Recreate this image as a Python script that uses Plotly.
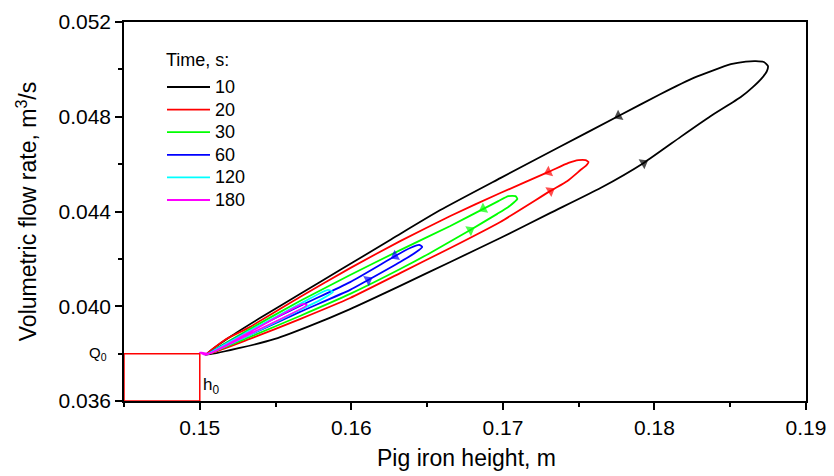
import plotly.graph_objects as go

# ---- data ----
times = ["10", "20", "30", "60", "120", "180"]
colors = ["#000000", "#ff0000", "#00ff00", "#0000ff", "#00ffff", "#ff00ff"]
legend_title = "Time, s:"
x_title = "Pig iron height, m"
y_title = "Volumetric flow rate, m<sup>3</sup>/s"

h0 = 0.15
Q0 = 0.038

x10 = [0.1504, 0.15264, 0.15496, 0.15727, 0.15992, 0.16322, 0.16653, 0.16983, 0.17314, 0.17644,
       0.17929, 0.18173, 0.18372, 0.18570, 0.18649, 0.18709, 0.18742,
       0.18749, 0.18722, 0.18669, 0.18603, 0.18504, 0.18259, 0.18041, 0.17763, 0.17360, 0.16983,
       0.16587, 0.16256, 0.15925, 0.15661, 0.15397, 0.15198, 0.1504]
y10 = [0.03795, 0.03824, 0.03862, 0.03917, 0.03988, 0.04086, 0.04187, 0.04288, 0.04394, 0.04499,
       0.04605, 0.04715, 0.04803, 0.04883, 0.04925, 0.04963, 0.04993,
       0.05014, 0.05031, 0.05035, 0.05033, 0.05022, 0.04964, 0.04896, 0.04803, 0.04668, 0.04541,
       0.04406, 0.04280, 0.04153, 0.04052, 0.03950, 0.03870, 0.03795]

x20 = [0.1504, 0.15330, 0.15661, 0.15992, 0.16322, 0.16653, 0.16983, 0.17314, 0.17426, 0.17512,
       0.17552, 0.17565, 0.17545, 0.17499, 0.17433, 0.17301, 0.16983, 0.16653, 0.16322, 0.15992,
       0.15661, 0.15330, 0.15165, 0.1504]
y20 = [0.03795, 0.03862, 0.03946, 0.04035, 0.04140, 0.04246, 0.04356, 0.04487, 0.04529, 0.04575,
       0.04596, 0.04609, 0.04617, 0.04617, 0.04605, 0.04567, 0.04478, 0.04381, 0.04275, 0.04161,
       0.04039, 0.03912, 0.03858, 0.03795]

x30 = [0.1504, 0.15330, 0.15661, 0.15992, 0.16322, 0.16520, 0.16785, 0.16963, 0.17036, 0.17076,
       0.17096, 0.17083, 0.17036, 0.16970, 0.16871, 0.16653, 0.16322, 0.15992, 0.15661, 0.15330,
       0.1504]
y30 = [0.03795, 0.03870, 0.03959, 0.04052, 0.04157, 0.04225, 0.04322, 0.04390, 0.04419, 0.04440,
       0.04453, 0.04465, 0.04465, 0.04444, 0.04411, 0.04339, 0.04237, 0.04132, 0.04022, 0.03904,
       0.03795]

x60 = [0.1504, 0.15330, 0.15661, 0.15992, 0.16111, 0.16322, 0.16428, 0.16468,
       0.16448, 0.16388, 0.16289, 0.15992, 0.15661, 0.15330, 0.1504]
y60 = [0.03795, 0.03879, 0.03976, 0.04069, 0.04111, 0.04187, 0.04229, 0.04250,
       0.04259, 0.04246, 0.04212, 0.04102, 0.04001, 0.03896, 0.03795]

x120 = [0.1504, 0.15330, 0.15661, 0.15793, 0.15879, 0.15846, 0.15661, 0.15330, 0.1504]
y120 = [0.03795, 0.03879, 0.03984, 0.04026, 0.04060, 0.04069, 0.04010, 0.03896, 0.03795]

x180 = [0.1500, 0.1504, 0.15330, 0.15707, 0.15681, 0.15330, 0.1506, 0.1500]
y180 = [0.03805, 0.03795, 0.03883, 0.04005, 0.04010, 0.03891, 0.03800, 0.03805]

xs = [x10, x20, x30, x60, x120, x180]
ys = [y10, y20, y30, y60, y120, y180]
# indices of curve points carrying a direction arrow (direction taken from the previous point)
arrow_idx = [[10, 24], [7, 15], [6, 14], [4, 10], [], []]

fig = go.Figure()

for t, c, x, y in zip(times, colors, xs, ys):
    fig.add_trace(go.Scatter(x=x, y=y, mode="lines", name=t, showlegend=False,
                             line=dict(color=c, width=1.8, shape="spline", smoothing=0.5)))

for c, x, y, idxs in zip(colors, xs, ys, arrow_idx):
    for i in idxs:
        fig.add_trace(go.Scatter(x=[x[i - 1], x[i]], y=[y[i - 1], y[i]], mode="markers",
                                 showlegend=False, hoverinfo="skip",
                                 marker=dict(symbol="triangle-up", size=[0, 10], color=c,
                                             angleref="previous", line=dict(width=0))))

# red guide box from the axes to (h0, Q0)
fig.add_shape(type="rect", xref="x", yref="y", x0=0.145, x1=h0, y0=0.036, y1=Q0,
              line=dict(color="#ff0000", width=1.5), layer="below")

fig.add_annotation(x=-0.022, xref="paper", y=Q0, yref="y", text="Q<sub>0</sub>",
                   showarrow=False, xanchor="right", yanchor="middle",
                   font=dict(size=15, color="black"))
fig.add_annotation(x=h0, xref="x", y=0.03662, yref="y", text="h<sub>0</sub>",
                   showarrow=False, xanchor="left", yanchor="middle", xshift=1,
                   font=dict(size=17, color="black"))

# ---- pixel layout helpers (paper units) ----
L, R, T, B = 124, 806, 22, 401
def px(p):
    return (p - L) / (R - L)
def py(p):
    return (B - p) / (B - T)

# x-axis title
fig.add_annotation(x=px(466), y=py(458), xref="paper", yref="paper", text=x_title,
                   showarrow=False, xanchor="center", yanchor="middle",
                   font=dict(size=23, color="black"))

# hand-placed legend
fig.add_annotation(x=px(164), y=py(60), xref="paper", yref="paper", text=legend_title,
                   showarrow=False, xanchor="left", yanchor="middle",
                   font=dict(size=18, color="black"))
for k, (t, c) in enumerate(zip(times, colors)):
    yy = py(87 + 22.6 * k)
    fig.add_shape(type="line", xref="paper", yref="paper", x0=px(167), x1=px(210),
                  y0=yy, y1=yy, line=dict(color=c, width=1.8))
    fig.add_annotation(x=px(213), y=yy, xref="paper", yref="paper", text=t,
                       showarrow=False, xanchor="left", yanchor="middle",
                       font=dict(size=18, color="black"))

font_family = "Liberation Sans, Arial, sans-serif"

fig.update_layout(
    width=834, height=476,
    margin=dict(l=124, r=28, t=22, b=75),
    paper_bgcolor="white", plot_bgcolor="white",
    font=dict(family=font_family, color="black"),
    showlegend=False,
    xaxis=dict(range=[0.145, 0.19], tick0=0.15, dtick=0.01, tickformat=".2f",
               automargin=False,
               showgrid=False, zeroline=False, showline=True, linecolor="black", linewidth=1.5,
               mirror=True, ticks="outside", ticklen=7, tickwidth=1.5, tickcolor="black",
               tickfont=dict(size=21),
               minor=dict(dtick=0.005, tick0=0.145, ticks="outside", ticklen=4, tickwidth=1.5,
                          tickcolor="black", showgrid=False)),
    yaxis=dict(range=[0.036, 0.052], tick0=0.036, dtick=0.004, tickformat=".3f",
               automargin=False,
               showgrid=False, zeroline=False, showline=True, linecolor="black", linewidth=1.5,
               mirror=True, ticks="outside", ticklen=7, tickwidth=1.5, tickcolor="black",
               tickfont=dict(size=21),
               minor=dict(dtick=0.002, tick0=0.036, ticks="outside", ticklen=4, tickwidth=1.5,
                          tickcolor="black", showgrid=False),
               title=dict(text=y_title, font=dict(size=23), standoff=15)),
)

fig.write_html("out.html")
